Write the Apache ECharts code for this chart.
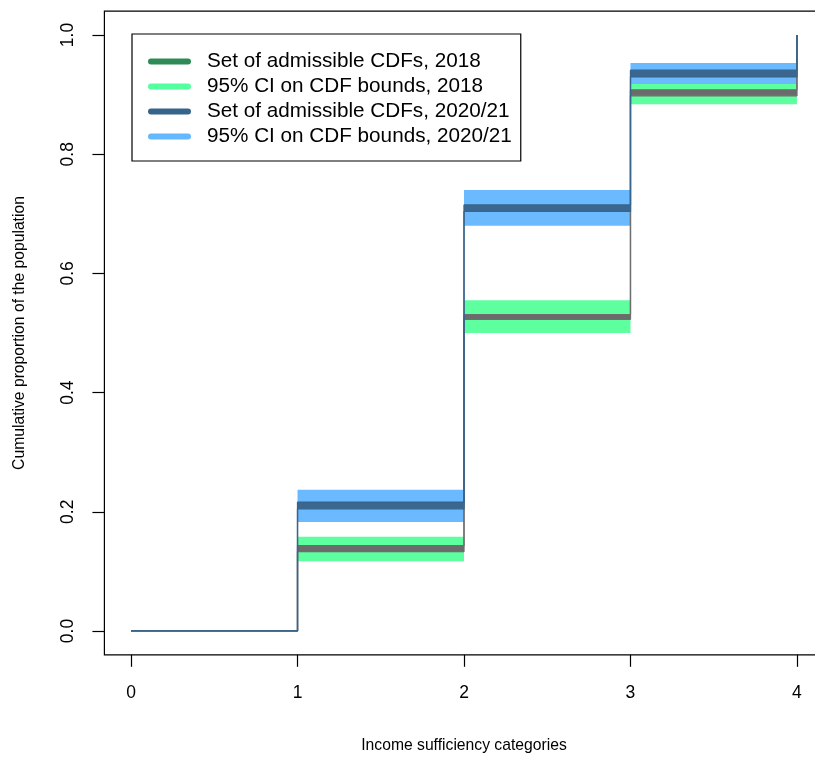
<!DOCTYPE html>
<html>
<head>
<meta charset="utf-8">
<script src="https://cdn.jsdelivr.net/npm/echarts@6/dist/echarts.min.js"></script>
<style>
html,body{margin:0;padding:0;background:#fff;}
#chart{width:815px;height:758px;}
</style>
</head>
<body>
<div id="chart"></div>
<script>
// Income sufficiency categories (x positions of the CDF steps)
const categories = [0, 1, 2, 3, 4];
const xTicks = [0, 1, 2, 3, 4];
const yTicks = [0.0, 0.2, 0.4, 0.6, 0.8, 1.0];

// 2018: set of admissible CDFs (lower / upper bound) on each interval [k, k+1]
const setLow2018  = [0, 0.133, 0.523, 0.898, 1];
const setHigh2018 = [0, 0.143, 0.531, 0.908, 1];
// 2018: 95% CI on CDF bounds
const ciLow2018   = [0, 0.117, 0.500, 0.884, 1];
const ciHigh2018  = [0, 0.158, 0.555, 0.920, 1];

// 2020/21: set of admissible CDFs
const setLow2020  = [0, 0.205, 0.704, 0.930, 1];
const setHigh2020 = [0, 0.216, 0.715, 0.941, 1];
// 2020/21: 95% CI on CDF bounds
const ciLow2020   = [0, 0.183, 0.680, 0.918, 1];
const ciHigh2020  = [0, 0.237, 0.740, 0.953, 1];

const names = [
  'Set of admissible CDFs, 2018',
  '95% CI on CDF bounds, 2018',
  'Set of admissible CDFs, 2020/21',
  '95% CI on CDF bounds, 2020/21'
];
const legendColors = ['#2E8B57', '#54FF9F', '#36648B', '#63B8FF'];

function bandData(lo, hi) {
  const out = [];
  for (let k = 0; k < categories.length - 1; k++) {
    out.push([categories[k], categories[k + 1], lo[k], hi[k]]);
  }
  return out;
}
function stepData(vals) {
  return categories.map((c, i) => [c, vals[i]]);
}
function bandSeries(name, lo, hi, fill, legendColor) {
  return {
    name: name,
    type: 'custom',
    silent: true,
    itemStyle: { color: legendColor },
    renderItem: function (params, api) {
      const p0 = api.coord([api.value(0), api.value(3)]);
      const p1 = api.coord([api.value(1), api.value(2)]);
      return {
        type: 'rect',
        shape: { x: p0[0], y: p0[1], width: p1[0] - p0[0], height: p1[1] - p0[1] },
        style: { fill: fill }
      };
    },
    encode: { x: [0, 1], y: [2, 3] },
    data: bandData(lo, hi)
  };
}
function stepSeries(vals, color) {
  return {
    type: 'line',
    step: 'end',
    silent: true,
    symbol: 'none',
    lineStyle: { color: color, width: 1.3 },
    data: stepData(vals)
  };
}

const chart = echarts.init(document.getElementById('chart'));
const font = 'Liberation Sans, Arial, Helvetica, sans-serif';
chart.setOption({
  animation: false,
  backgroundColor: '#fff',
  textStyle: { fontFamily: font },
  grid: {
    left: 104.4, top: 11.2, width: 719.2, height: 643.6,
    show: true, borderColor: '#000', borderWidth: 1.2, backgroundColor: 'transparent',
    containLabel: false, outerBoundsMode: 'none'
  },
  legend: {
    orient: 'vertical',
    left: 132, top: 34,
    padding: [17, 9, 14, 16],
    borderColor: '#000', borderWidth: 1.2,
    backgroundColor: '#fff',
    itemWidth: 43, itemHeight: 6, itemGap: 4,
    selectedMode: false,
    icon: 'path://M3,0L40,0A3,3,0,0,1,40,6L3,6A3,3,0,0,1,3,0Z',
    textStyle: { fontFamily: font, fontSize: 20.7, lineHeight: 20, color: '#000', padding: [0, 0, 0, 11] },
    data: names.map((n, i) => ({ name: n, itemStyle: { color: legendColors[i] } }))
  },
  xAxis: {
    type: 'value', min: -0.16, max: 4.16,
    name: 'Income sufficiency categories', nameLocation: 'middle', nameGap: 83,
    nameTextStyle: { fontFamily: font, fontSize: 15.7, color: '#000' },
    axisLine: { show: false, onZero: false },
    splitLine: { show: false },
    axisTick: { show: true, customValues: xTicks, length: 12, lineStyle: { color: '#000', width: 1.2 } },
    axisLabel: { customValues: xTicks, fontSize: 17.5, color: '#000', margin: 29, fontFamily: font }
  },
  yAxis: {
    type: 'value', min: -0.04, max: 1.04,
    name: 'Cumulative proportion of the population', nameLocation: 'middle', nameGap: 77,
    nameTextStyle: { fontFamily: font, fontSize: 15.7, color: '#000' },
    axisLine: { show: false, onZero: false },
    splitLine: { show: false },
    axisTick: { show: true, customValues: yTicks, length: 12, lineStyle: { color: '#000', width: 1.2 } },
    axisLabel: { customValues: yTicks, fontSize: 17.5, color: '#000', margin: 27, rotate: 90, fontFamily: font,
      formatter: v => v.toFixed(1) }
  },
  series: [
    bandSeries(names[1], ciLow2018, ciHigh2018, '#5dff9f', legendColors[1]),
    bandSeries(names[0], setLow2018, setHigh2018, '#6b6b6b', legendColors[0]),
    bandSeries(names[3], ciLow2020, ciHigh2020, '#6bbaff', legendColors[3]),
    bandSeries(names[2], setLow2020, setHigh2020, '#3b6690', legendColors[2]),
    stepSeries(setLow2018, '#6e6e6e'),
    stepSeries(setHigh2018, '#6e6e6e'),
    stepSeries(setLow2020, '#36648B'),
    stepSeries(setHigh2020, '#36648B')
  ]
});
</script>
</body>
</html>
